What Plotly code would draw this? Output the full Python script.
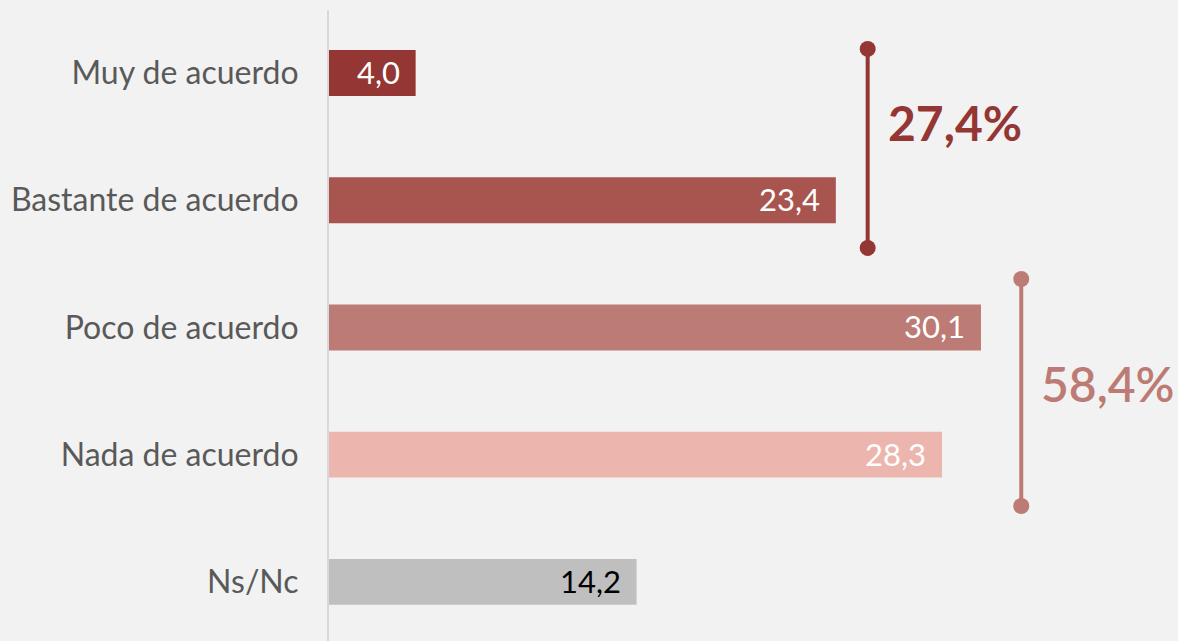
import plotly.graph_objects as go

# data
categories = ["Muy de acuerdo", "Bastante de acuerdo", "Poco de acuerdo",
              "Nada de acuerdo", "Ns/Nc"]
values = [4.0, 23.4, 30.1, 28.3, 14.2]
bar_colors = ["#943634", "#a9554f", "#bc7b74", "#ecb6ae", "#bfbfbf"]
label_colors = ["white", "white", "white", "white", "black"]

group_labels = ["27,4%", "58,4%"]
group_colors = ["#943634", "#bc7b74"]

BG = "#f2f2f2"
FONT = "Lato, 'Open Sans', sans-serif"
PX_PER_UNIT = 21.66
PLOT_LEFT = 329
WIDTH, HEIGHT = 1178, 641

ypos = list(range(len(categories)))

fig = go.Figure()

fig.add_trace(go.Bar(
    x=values,
    y=ypos,
    orientation="h",
    width=0.36,
    marker=dict(color=bar_colors, line=dict(width=0)),
    hoverinfo="skip",
    showlegend=False,
))

# value labels, right-aligned inside bar ends
for v, yy, c in zip(values, ypos, label_colors):
    fig.add_annotation(
        x=v, y=yy, text=f"{v:.1f}".replace(".", ","),
        showarrow=False, xanchor="right", yanchor="middle",
        xshift=-14, yshift=1,
        font=dict(family=FONT, size=31, color=c),
    )

# brackets grouping agree / disagree
brackets = [
    dict(x=24.87, y0=-0.189, y1=1.375, tx=25.72, ty=0.39, bold=True),
    dict(x=31.96, y0=1.619, y1=3.403, tx=32.76, ty=2.444, bold=False),
]
for b, lab, col in zip(brackets, group_labels, group_colors):
    fig.add_trace(go.Scatter(
        x=[b["x"], b["x"]], y=[b["y0"], b["y1"]],
        mode="lines+markers",
        line=dict(color=col, width=4),
        marker=dict(color=col, size=16),
        hoverinfo="skip", showlegend=False,
    ))
    txt = f"<b>{lab}</b>" if b["bold"] else lab
    fig.add_annotation(
        x=b["tx"], y=b["ty"], text=txt, showarrow=False,
        xanchor="left", yanchor="middle",
        font=dict(family=FONT, size=48, color=col,
                  weight=700 if b["bold"] else 600),
    )

plot_w = WIDTH - PLOT_LEFT
fig.update_layout(
    width=WIDTH, height=HEIGHT,
    margin=dict(l=PLOT_LEFT, r=0, t=10, b=0),
    paper_bgcolor=BG, plot_bgcolor=BG,
    font=dict(family=FONT, color="#595959"),
    xaxis=dict(range=[0, plot_w / PX_PER_UNIT], visible=False,
               showgrid=False, zeroline=False),
    yaxis=dict(
        range=[4.464, -0.495],
        tickvals=ypos, ticktext=categories,
        tickfont=dict(family=FONT, size=32, color="#595959"),
        showgrid=False, zeroline=False,
        showline=True, linecolor="#d9d9d9", linewidth=2,
        ticks="outside", ticklen=22, tickcolor="rgba(0,0,0,0)",
    ),
)

fig.write_html(
    "out.html",
    config={"displayModeBar": False},
    post_script="document.body.style.margin='0';"
                "document.body.style.background='#f2f2f2';",
)
